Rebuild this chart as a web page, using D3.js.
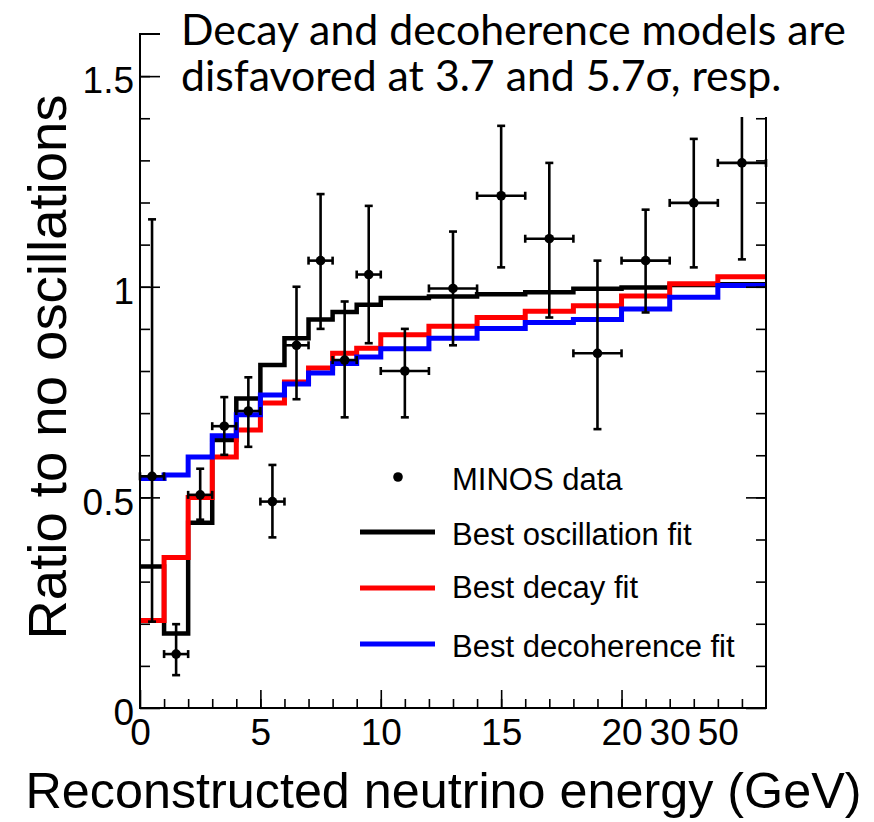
<!DOCTYPE html>
<html><head><meta charset="utf-8">
<script src="https://cdn.jsdelivr.net/npm/d3@7"></script>
<style>html,body{margin:0;padding:0;background:#fff;}svg{display:block;}</style>
</head><body>
<svg id="c" width="874" height="822"></svg>
<script>
// ---------- data ----------
// bin edges in GeV (axis is linear to 20 GeV, then 20-30, 30-50, 50-200 compressed)
const binEdges = [0,1,2,3,4,5,6,7,8,9,10,12,14,16,18,20,30,50,200];
const axisBreaksGeV = [0,20,30,50,200];
const axisBreaksUnits = [0,20,22,24,26];
const dataValue = [0.55,0.128,0.506,0.669,0.705,0.49,0.861,1.062,0.826,1.029,0.80,0.996,1.216,1.114,0.842,1.062,1.199,1.294];
const dataHigh  = [1.16,0.199,0.568,0.738,0.785,0.577,1.0,1.22,0.965,1.192,0.90,1.131,1.382,1.294,1.062,1.183,1.351,1.45];
const dataLow   = [0.205,0.078,0.447,0.601,0.62,0.405,0.733,0.90,0.69,0.866,0.69,0.861,1.046,0.927,0.662,0.939,1.046,1.065];
const oscFit    = [0.336,0.177,0.44,0.636,0.735,0.814,0.878,0.922,0.94,0.957,0.973,0.977,0.982,0.987,0.995,0.998,1.004,1.006];
const decayFit  = [0.208,0.357,0.5,0.596,0.66,0.724,0.774,0.807,0.842,0.854,0.886,0.906,0.927,0.942,0.955,0.978,1.007,1.024];
const decohFit  = [0.545,0.553,0.596,0.646,0.696,0.743,0.769,0.795,0.818,0.833,0.853,0.878,0.901,0.915,0.922,0.947,0.975,1.003];
const xLabelValues = [0,5,10,15,20,30,50];
const xMajorTicks = [0,5,10,15,20];
const yMajorTicks = [0,0.5,1,1.5];
const yLabelText = {0:"0",0.5:"0.5",1:"1",1.5:"1.5"};
const legendItems = ["MINOS data","Best oscillation fit","Best decay fit","Best decoherence fit"];
const titleLines = ["Decay and decoherence models are","disfavored at 3.7 and 5.7\u03C3, resp."];

// ---------- layout ----------
const L=140, R=766, B=708, T=34;
const svg = d3.select("#c");
const SANS = "'Liberation Sans', Arial, Helvetica, sans-serif";

const xu = d3.scaleLinear().domain([0,26]).range([L,R]);
const x = d3.scaleLinear().domain(axisBreaksGeV).range(axisBreaksUnits.map(u=>xu(u)));
const y = d3.scaleLinear().domain([0,1.6]).range([B,T]);

// ---------- histograms ----------
function stepPath(vals){
  const pts=[];
  vals.forEach((v,i)=>{ pts.push([x(binEdges[i]),y(v)]); pts.push([x(binEdges[i+1]),y(v)]); });
  return d3.line()(pts);
}
const hist = [[oscFit,"#000",4.5],[decayFit,"#ff0000",5],[decohFit,"#0000ff",5]];
hist.forEach(([v,c,w])=>{
  svg.append("path").attr("d",stepPath(v)).attr("fill","none").attr("stroke",c)
     .attr("stroke-width",w).attr("stroke-linejoin","miter");
});

// ---------- data points ----------
const gd = svg.append("g").attr("stroke","#000").attr("stroke-width",2.6);
dataValue.forEach((v,i)=>{
  const cx = x((binEdges[i]+binEdges[i+1])/2);
  const cy = y(v);
  const x1 = x(binEdges[i]), x2 = x(binEdges[i+1]);
  const yh = y(dataHigh[i]), yl = y(dataLow[i]);
  gd.append("line").attr("x1",cx).attr("x2",cx).attr("y1",yh).attr("y2",yl);
  gd.append("line").attr("x1",cx-4).attr("x2",cx+4).attr("y1",yh).attr("y2",yh);
  gd.append("line").attr("x1",cx-4).attr("x2",cx+4).attr("y1",yl).attr("y2",yl);
  gd.append("line").attr("x1",x1).attr("x2",x2).attr("y1",cy).attr("y2",cy);
  gd.append("line").attr("x1",x1).attr("x2",x1).attr("y1",cy-4).attr("y2",cy+4);
  gd.append("line").attr("x1",x2).attr("x2",x2).attr("y1",cy-4).attr("y2",cy+4);
  svg.append("circle").attr("cx",cx).attr("cy",cy).attr("r",4.8).attr("fill","#000");
});

// ---------- axes ----------
function styleAxis(g){ g.select(".domain").remove(); g.selectAll("line").attr("stroke","#000").attr("stroke-width",1.6); }
const yMinor = d3.range(1,16).map(i=>i/10);
// left
svg.append("g").attr("transform",`translate(${L},0)`).call(d3.axisLeft(y).tickValues(yMinor).tickSize(-10).tickFormat("")).call(styleAxis);
svg.append("g").attr("transform",`translate(${L},0)`).call(d3.axisLeft(y).tickValues(yMajorTicks).tickSize(-20).tickFormat("")).call(styleAxis);
// right
svg.append("g").attr("transform",`translate(${R},0)`).call(d3.axisRight(y).tickValues(yMinor).tickSize(-10).tickFormat("")).call(styleAxis);
svg.append("g").attr("transform",`translate(${R},0)`).call(d3.axisRight(y).tickValues(yMajorTicks).tickSize(-20).tickFormat("")).call(styleAxis);
// y labels
const yl = svg.append("g").attr("transform",`translate(${L},0)`)
  .call(d3.axisLeft(y).tickValues(yMajorTicks).tickSize(0).tickPadding(6).tickFormat(d=>yLabelText[d]));
yl.select(".domain").remove();
yl.attr("font-family",SANS).attr("font-size",37);
yl.selectAll("text").attr("y",5).attr("fill","#000");
// bottom
const xMinor = d3.range(1,26).map(u=>x.invert(xu(u)));
svg.append("g").attr("transform",`translate(0,${B})`).call(d3.axisBottom(x).tickValues(xMinor).tickSize(-9).tickFormat("")).call(styleAxis);
svg.append("g").attr("transform",`translate(0,${B})`).call(d3.axisBottom(x).tickValues(xMajorTicks).tickSize(-18).tickFormat("")).call(styleAxis);
const xl = svg.append("g").attr("transform",`translate(0,${B})`)
  .call(d3.axisBottom(x).tickValues(xLabelValues).tickSize(0).tickPadding(11).tickFormat(d3.format("d")));
xl.select(".domain").remove();
xl.attr("font-family",SANS).attr("font-size",37);
xl.selectAll("text").attr("fill","#000");

// frame
svg.append("rect").attr("x",L).attr("y",T).attr("width",R-L).attr("height",B-T)
  .attr("fill","none").attr("stroke","#000").attr("stroke-width",2);

// ---------- axis titles ----------
function fit(sel,target){ const w=sel.node().getComputedTextLength(); sel.attr("font-size",parseFloat(sel.attr("font-size"))*target/w); }
const xt = svg.append("text").attr("x",443.5).attr("y",808).attr("text-anchor","middle")
  .attr("font-family",SANS).attr("font-size",48).text("Reconstructed neutrino energy (GeV)");
fit(xt,836);
const ytxt = svg.append("text").attr("transform","translate(66,367) rotate(-90)").attr("text-anchor","middle")
  .attr("font-family",SANS).attr("font-size",54).text("Ratio to no oscillations");
fit(ytxt,545);

// ---------- legend ----------
const lg = svg.append("g").attr("font-family",SANS).attr("font-size",31);
lg.append("circle").attr("cx",398).attr("cy",477).attr("r",4.8).attr("fill","#000");
const legY = [490,545,598,657];
const legLineY = [null,532,588,644];
const legCol = [null,"#000","#ff0000","#0000ff"];
legendItems.forEach((t,i)=>{
  lg.append("text").attr("x",452).attr("y",legY[i]).attr("fill","#000").text(t);
  if(i>0) lg.append("line").attr("x1",360).attr("x2",435).attr("y1",legLineY[i]).attr("y2",legLineY[i])
     .attr("stroke",legCol[i]).attr("stroke-width",5);
});

// ---------- title box ----------
svg.append("rect").attr("x",160).attr("y",0).attr("width",714).attr("height",117).attr("fill","#fff");
const TF = "Lato, 'Open Sans', sans-serif";
const t1 = svg.append("text").attr("x",181).attr("y",45).attr("font-family",TF).attr("font-size",42).attr("fill","#000").text(titleLines[0]);
fit(t1,665);
const fs = t1.attr("font-size");
svg.append("text").attr("x",181).attr("y",91).attr("font-family",TF).attr("font-size",fs).attr("fill","#000").text(titleLines[1]);
</script>
</body></html>
